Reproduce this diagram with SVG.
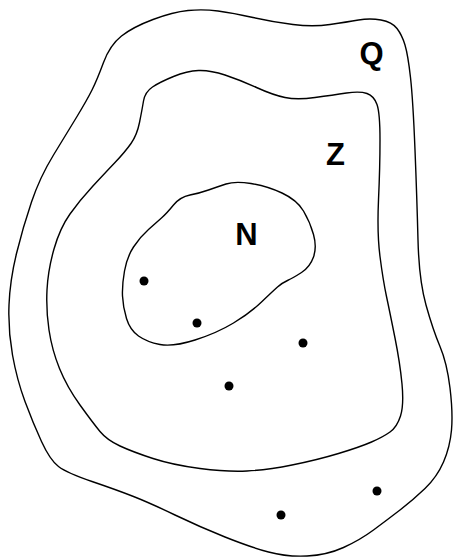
<svg xmlns="http://www.w3.org/2000/svg" width="454" height="559" viewBox="0 0 454 559">
<style>
.set{fill:none;stroke:#000;stroke-width:1.4;stroke-linejoin:round}
.lbl{font-family:"Liberation Sans",Arial,sans-serif;font-size:31px;font-weight:bold;fill:#000;text-anchor:middle}
.pt{fill:#000}
</style>
<rect width="454" height="559" fill="#fff"/>
<g id="set-Q">
<path class="set" d="M 103.5,62.5 Q 110,45 121.5,36 Q 133,27 153,19.5 Q 173,12 188,10.5 Q 203,9 218,11 Q 233,13 253,17.5 Q 273,22 293,24.5 Q 313,27 330,24.5 Q 347,22 358.5,20 Q 370,18 381,20 Q 392,22 397,28.5 Q 402,35 405,45 Q 408,55 410.5,77.5 Q 413,100 415,150 Q 417,200 418,240 Q 419,280 426,305 Q 433,330 440,346.5 Q 447,363 450,388 Q 453,413 451.5,430 Q 450,447 443.5,462 Q 437,477 425,488.5 Q 413,500 400,510 Q 387,520 373.5,530 Q 360,540 343.5,547.5 Q 327,555 307,556 Q 287,557 268.5,552 Q 250,547 225,537 Q 200,527 175,515 Q 150,503 133.5,496.5 Q 117,490 92,481.5 Q 67,473 58.5,466.5 Q 50,460 41.5,441.5 Q 33,423 25,401.5 Q 17,380 12.5,355 Q 8,330 9,305 Q 10,280 16.5,253.5 Q 23,227 31.5,202 Q 40,177 53.5,155 Q 67,133 77,116.5 Q 87,100 92,90 Q 97,80 103.5,62.5 Z"/>
<text class="lbl" x="371.5" y="64">Q</text>
</g>
<g id="set-Z">
<path class="set" d="M 139.5,122.5 Q 142,110 143.5,101 Q 145,92 152.5,87 Q 160,82 173.5,76.5 Q 187,71 198.5,70.5 Q 210,70 225,75 Q 240,80 256.5,87.5 Q 273,95 285,97.5 Q 297,100 315,97.5 Q 333,95 346.5,93 Q 360,91 367,93.5 Q 374,96 377,104.5 Q 380,113 380,140 Q 380,167 378.5,200 Q 377,233 380,256.5 Q 383,280 386.5,296.5 Q 390,313 395,338 Q 400,363 402,384 Q 404,405 400.5,416 Q 397,427 390,432 Q 383,437 371.5,442 Q 360,447 338.5,453.5 Q 317,460 292,465 Q 267,470 247,471 Q 227,472 200,468.5 Q 173,465 153,458.5 Q 133,452 120,446 Q 107,440 100,431.5 Q 93,423 80,405 Q 67,387 59.5,368.5 Q 52,350 49,330 Q 46,310 47,290 Q 48,270 54,249 Q 60,228 70,214 Q 80,200 92.5,186.5 Q 105,173 115,162.5 Q 125,152 131,143.5 Q 137,135 139.5,122.5 Z"/>
<text class="lbl" x="335.5" y="165">Z</text>
</g>
<g id="set-N">
<path class="set" d="M 173.5,205 Q 180,197 190,195 Q 200,193 208.5,190 Q 217,187 226,184 Q 235,181 251,183.5 Q 267,186 282,193 Q 297,200 303.5,211 Q 310,222 313.5,234.5 Q 317,247 313.5,257 Q 310,267 301.5,272.5 Q 293,278 287.5,280.5 Q 282,283 277.5,287 Q 273,291 261.5,302 Q 250,313 233.5,323 Q 217,333 195,340 Q 173,347 160,344.5 Q 147,342 138.5,336 Q 130,330 126.5,318.5 Q 123,307 122.5,296 Q 122,285 124.5,271 Q 127,257 133.5,247 Q 140,237 148.5,229.5 Q 157,222 162,217.5 Q 167,213 173.5,205 Z"/>
<text class="lbl" x="246.5" y="245">N</text>
</g>
<g id="points">
<circle class="pt" cx="144" cy="281" r="4.5"/>
<circle class="pt" cx="197" cy="323" r="4.5"/>
<circle class="pt" cx="303" cy="343" r="4.5"/>
<circle class="pt" cx="229" cy="386" r="4.5"/>
<circle class="pt" cx="377" cy="491" r="4.5"/>
<circle class="pt" cx="281" cy="515" r="4.5"/>
</g>
</svg>
